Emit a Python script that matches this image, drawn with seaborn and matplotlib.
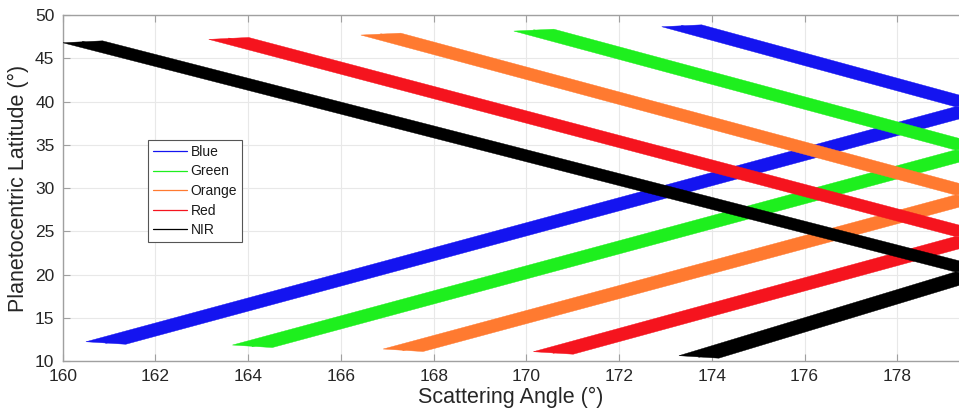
import numpy as np
import pandas as pd
import matplotlib
matplotlib.use("Agg")
import matplotlib.pyplot as plt
import seaborn as sns

# ---- data ----
filters = ["Blue", "Green", "Orange", "Red", "NIR"]
colors = ["#1414F0", "#1EEF1E", "#FF7A30", "#F5141E", "#000000"]
# left tip of the rising (lower) branch: scattering angle, latitude
lower_tip_angle = [160.50, 163.66, 166.91, 170.15, 173.29]
lower_tip_lat = [12.23, 11.85, 11.39, 11.08, 10.62]
# left tip of the falling (upper) branch
upper_tip_angle = [172.92, 169.73, 166.43, 163.15, 160.00]
upper_tip_lat = [48.65, 48.15, 47.69, 47.19, 46.80]
# point where the two branches meet near backscatter
apex_angle = [179.25, 179.25, 179.25, 179.25, 179.25]
apex_lat = [39.4, 34.4, 29.2, 24.4, 20.3]
# width of the band tips (angle, latitude)
tip_d_angle = 0.86
lower_tip_d_lat = -0.29
upper_tip_d_lat = 0.22

xticks = list(range(160, 180, 2))
yticks = list(range(10, 55, 5))

sns.set_style("white")
plt.rcParams["font.family"] = ["Liberation Sans", "DejaVu Sans"]

fig = plt.figure(figsize=(9.59, 4.15), dpi=100)
ax = fig.add_axes([0.0654, 0.130, 0.9346, 0.8337])

# centre lines (seaborn) - also give the legend
rows = []
for i, f in enumerate(filters):
    for br, (tx, ty, dy) in enumerate([(lower_tip_angle[i], lower_tip_lat[i], lower_tip_d_lat),
                                        (upper_tip_angle[i], upper_tip_lat[i], upper_tip_d_lat)]):
        rows.append(dict(Filter=f, branch=f"{f}{br}", angle=tx + tip_d_angle / 2, lat=ty + dy / 2))
        rows.append(dict(Filter=f, branch=f"{f}{br}", angle=apex_angle[i] + tip_d_angle / 2,
                         lat=apex_lat[i] + dy / 2))
df = pd.DataFrame(rows)
pal = dict(zip(filters, colors))
sns.lineplot(data=df, x="angle", y="lat", hue="Filter", units="branch", estimator=None,
             sort=False, palette=pal, linewidth=0.9, ax=ax, zorder=1)

# filled bands
for i, f in enumerate(filters):
    for tx, ty, dy in [(lower_tip_angle[i], lower_tip_lat[i], lower_tip_d_lat),
                       (upper_tip_angle[i], upper_tip_lat[i], upper_tip_d_lat)]:
        xs = [tx, tx + tip_d_angle, apex_angle[i] + tip_d_angle, apex_angle[i]]
        ys = [ty, ty + dy, apex_lat[i] + dy, apex_lat[i]]
        ax.fill(xs, ys, color=colors[i], lw=0.3, zorder=2 + i)

ax.set_xlim(160, 179.33)
ax.set_ylim(10, 50)
ax.set_xticks(xticks)
ax.set_yticks(yticks)
ax.grid(True, color="#e8e8e8", linewidth=0.8)
ax.set_axisbelow(True)

for s in ["top", "left", "bottom"]:
    ax.spines[s].set_color("#a0a0a0")
    ax.spines[s].set_linewidth(1.0)
ax.spines["right"].set_visible(False)
ax.tick_params(axis="both", which="both", direction="in", length=5, width=0.8,
               color="#a0a0a0", labelsize=12.5, labelcolor="#262626", pad=6,
               top=True, bottom=True, left=True, right=False)

ax.set_xlabel("Scattering Angle (°)", fontsize=15.5, color="#262626", labelpad=2)
ax.set_ylabel("Planetocentric Latitude (°)", fontsize=15.5, color="#262626", labelpad=4)

sns.move_legend(ax, "upper left", bbox_to_anchor=(0.0955, 0.6387), borderaxespad=0,
                title=None, frameon=True, fancybox=False, framealpha=1,
                edgecolor="#555555", fontsize=10, handlelength=2.4, handletextpad=0.3,
                labelspacing=0.4, borderpad=0.35)
leg = ax.get_legend()
leg.get_frame().set_linewidth(0.8)
for t in leg.get_texts():
    t.set_color("#1a1a1a")

fig.savefig("out.png", dpi=100)
